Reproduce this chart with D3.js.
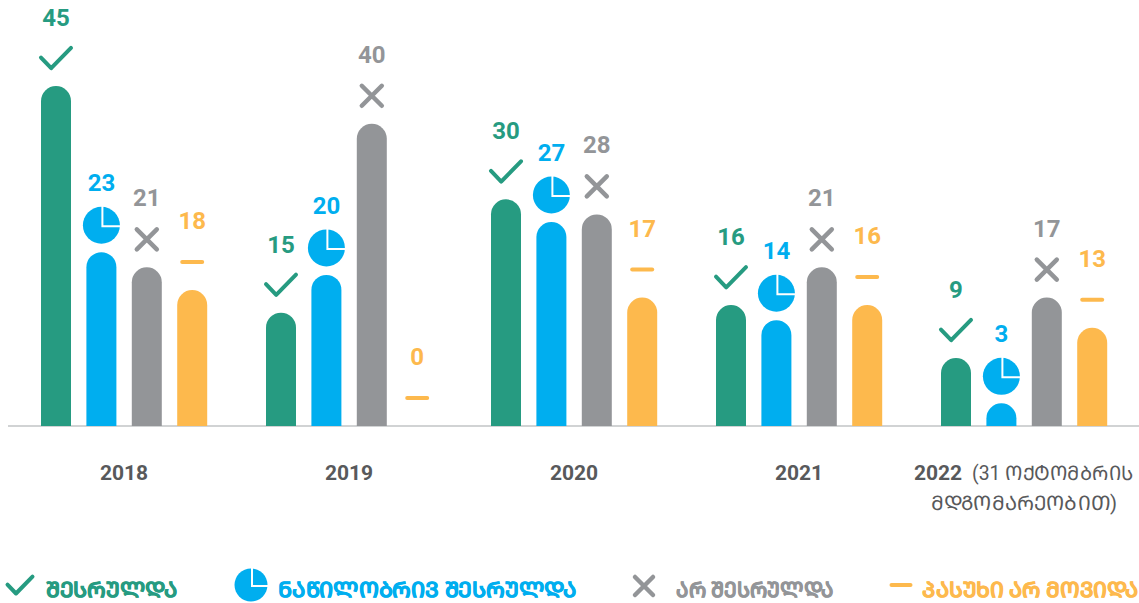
<!DOCTYPE html>
<html>
<head>
<meta charset="utf-8">
<script src="https://d3js.org/d3.v7.min.js"></script>
<style>
body { margin: 0; background: #fff; }
text { font-family: Roboto, "DejaVu Sans", sans-serif; }
</style>
</head>
<body>
<svg width="1139" height="603"></svg>
<script>
var years = ["2018", "2019", "2020", "2021", "2022"];
var statuses = ["done", "partial", "notDone", "noAnswer"];
var done = [45, 15, 30, 16, 9];
var partial = [23, 20, 27, 14, 3];
var notDone = [21, 40, 28, 21, 17];
var noAnswer = [18, 0, 17, 16, 13];
var legendLabels = ["ᲨᲔᲡᲠᲣᲚᲓᲐ", "ᲜᲐᲬᲘᲚᲝᲑᲠᲘᲕ ᲨᲔᲡᲠᲣᲚᲓᲐ", "ᲐᲠ ᲨᲔᲡᲠᲣᲚᲓᲐ", "ᲞᲐᲡᲣᲮᲘ ᲐᲠ ᲛᲝᲕᲘᲓᲐ"];
var legendWidths = [132, 299, 158, 217];
var colors = ["#269b81", "#00aeef", "#939598", "#fdb94d"];

var svg = d3.select("svg");
var series = [done, partial, notDone, noAnswer];

var x0 = d3.scalePoint().domain(years).range([124, 1024]);
var y = d3.scaleLinear().domain([0, 45]).range([426, 86]);
var barW = 30, step = 45.4;

svg.append("line")
    .attr("x1", 8).attr("x2", 1139)
    .attr("y1", 426).attr("y2", 426)
    .attr("stroke", "#d1d3d4").attr("stroke-width", 2);

var pieArc = d3.arc();
function drawIcon(g, k, r) {
  if (k == 0) {
    g.append("path").attr("d", "M" + (-r) + "," + (-r * 0.03) + "L" + (-r * 0.32) + "," + (r * 0.68) + "L" + r + "," + (-r * 0.67))
      .attr("fill", "none").attr("stroke", colors[0]).attr("stroke-width", 4)
      .attr("stroke-linecap", "round").attr("stroke-linejoin", "round");
  } else if (k == 1) {
    g.append("path").attr("d", pieArc({innerRadius: 0, outerRadius: r, startAngle: 0, endAngle: Math.PI * 2}))
      .attr("fill", colors[1]);
    // white L shape cuts the slice out of the circle
    g.append("path").attr("d", "M1," + (-r - 1) + "V1H" + (r + 1))
      .attr("fill", "none").attr("stroke", "#fff").attr("stroke-width", 2);
  } else if (k == 2) {
    g.append("path").attr("d", "M" + (-r) + "," + (-r) + "L" + r + "," + r + "M" + r + "," + (-r) + "L" + (-r) + "," + r)
      .attr("fill", "none").attr("stroke", colors[2]).attr("stroke-width", 4.5)
      .attr("stroke-linecap", "round");
  } else {
    g.append("line").attr("x1", -r).attr("x2", r)
      .attr("stroke", colors[3]).attr("stroke-width", 4).attr("stroke-linecap", "round");
  }
}

var iconSize = [15, 18.5, 10, 10];
var iconOff = [28, 27, 28, 28];
var labelOff = [60, 61, 61, 61];

// bars, icons and value labels per year
years.forEach(function(yr, i) {
  statuses.forEach(function(st, k) {
    var v = series[k][i];
    var cx = x0(yr) - 68 + k * step;
    var top = y(v);
    if (v > 0) {
      var h = 426 - top, r = barW / 2;
      svg.append("path")
        .attr("d", "M" + (cx - r) + ",426V" + (top + Math.min(r, h)) + "A" + r + "," + Math.min(r, h) + " 0 0 1 " + (cx + r) + "," + (top + Math.min(r, h)) + "V426Z")
        .attr("fill", colors[k]);
    }
    var g = svg.append("g").attr("transform", "translate(" + cx + "," + (top - iconOff[k]) + ")");
    drawIcon(g, k, iconSize[k]);
    svg.append("text")
      .attr("x", cx).attr("y", top - labelOff[k])
      .attr("text-anchor", "middle")
      .attr("font-size", 24).attr("font-weight", 700)
      .attr("fill", colors[k])
      .text(v);
  });
  svg.append("text")
    .attr("x", i == 4 ? 938 : x0(yr)).attr("y", 480)
    .attr("text-anchor", "middle")
    .attr("font-size", 21).attr("font-weight", 700)
    .attr("fill", "#58595b")
    .text(yr);
});

svg.append("text").attr("x", 972).attr("y", 480)
  .attr("font-size", 20).attr("fill", "#58595b")
  .attr("textLength", 162).attr("lengthAdjust", "spacingAndGlyphs").text("(31 ᲝᲥᲢᲝᲛᲑᲠᲘᲡ");
svg.append("text").attr("x", 931).attr("y", 510)
  .attr("font-size", 20).attr("fill", "#58595b")
  .attr("textLength", 186).attr("lengthAdjust", "spacingAndGlyphs").text("ᲛᲓᲒᲝᲛᲐᲠᲔᲝᲑᲘᲗ)");

// legend
var legendX = [20, 251, 644, 901];
var legendTextX = [46, 278, 676, 922];
var legendSize = [12.5, 16.5, 9, 9.5];
var legendY = [585, 585, 586, 585];
legendLabels.forEach(function(t, k) {
  var g = svg.append("g").attr("transform", "translate(" + legendX[k] + "," + legendY[k] + ")");
  drawIcon(g, k, legendSize[k]);
  svg.append("text").attr("x", legendTextX[k]).attr("y", 597)
    .attr("font-size", 21).attr("font-weight", 700)
    .attr("fill", colors[k]).attr("stroke", colors[k]).attr("stroke-width", 0.5)
    .attr("textLength", legendWidths[k]).attr("lengthAdjust", "spacingAndGlyphs")
    .text(t);
});
</script>
</body>
</html>
